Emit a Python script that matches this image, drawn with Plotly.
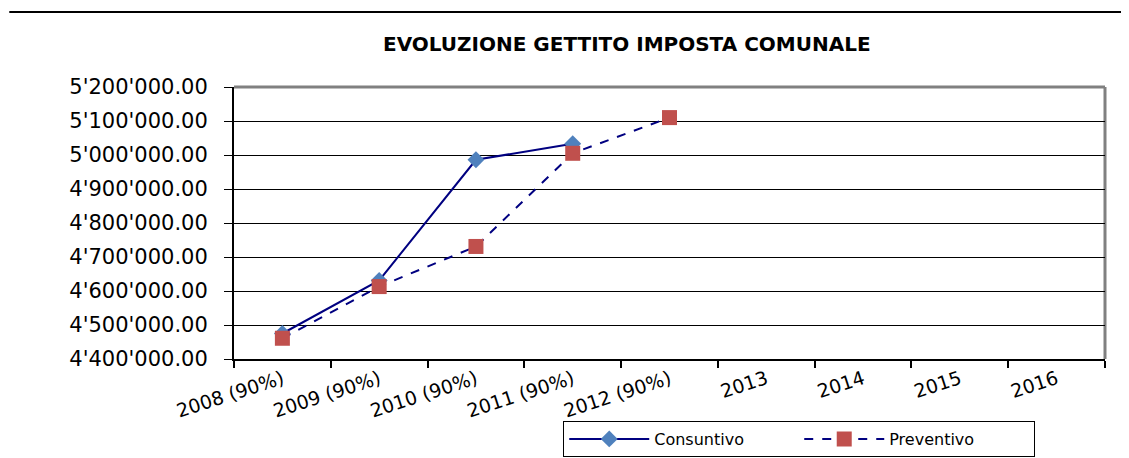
import plotly.graph_objects as go

categories = ["2008 (90%)", "2009 (90%)", "2010 (90%)", "2011 (90%)", "2012 (90%)",
              "2013", "2014", "2015", "2016"]
consuntivo = [4475000, 4631000, 4986000, 5033000, None, None, None, None, None]
preventivo = [4461000, 4613000, 4731000, 5005000, 5110000, None, None, None, None]
title_text = "EVOLUZIONE GETTITO IMPOSTA COMUNALE"

FONT = "DejaVu Sans"
NAVY = "#000080"

fig = go.Figure()
fig.add_trace(go.Scatter(
    x=categories, y=consuntivo, name="Consuntivo", mode="lines+markers",
    line=dict(color=NAVY, width=2),
    marker=dict(symbol="diamond", size=13, color="#4F81BD"),
))
fig.add_trace(go.Scatter(
    x=categories, y=preventivo, name="Preventivo", mode="lines+markers",
    line=dict(color=NAVY, width=2, dash="dash"),
    marker=dict(symbol="square", size=15, color="#C0504D"),
))

fig.update_layout(
    width=1121, height=450,
    margin=dict(l=226, r=24, t=79, b=99, autoexpand=False),
    paper_bgcolor="white", plot_bgcolor="white",
    separators=".'",
    title=dict(text="<b>" + title_text + "</b>", x=0.552, xanchor="center",
               y=0.92, yanchor="middle", yref="container",
               font=dict(family=FONT, size=20, color="black")),
    font=dict(family=FONT, color="black"),
    showlegend=True,
    legend=dict(orientation="h", x=0.378, xanchor="left", y=-0.228, yanchor="top",
                bordercolor="black", borderwidth=1, bgcolor="white",
                font=dict(family=FONT, size=16, color="black"),
                itemwidth=80, entrywidth=140, tracegroupgap=0,
                ),
    xaxis=dict(
        type="category", categoryorder="array", categoryarray=categories,
        range=[-0.5, len(categories) - 0.5],
        showline=True, linecolor="black", linewidth=2,
        ticks="outside", tickson="boundaries", ticklen=7, tickwidth=2, tickcolor="black",
        tickangle=-18, tickfont=dict(family=FONT, size=19, color="black"),
        showgrid=False, zeroline=False,
    ),
    yaxis=dict(
        range=[4400000, 5200000], dtick=100000, tick0=4400000,
        tickformat=",.2f",
        showline=True, linecolor="black", linewidth=2,
        ticks="outside", ticklen=8, tickwidth=1, tickcolor="black",
        ticklabelstandoff=12,
        tickfont=dict(family=FONT, size=21, color="black"),
        showgrid=True, gridcolor="black", gridwidth=1, zeroline=False,
    ),
    shapes=[
        dict(type="line", xref="paper", yref="paper", x0=0, x1=1, y0=1, y1=1,
             line=dict(color="#808080", width=3), layer="below"),
        dict(type="line", xref="paper", yref="paper", x0=1, x1=1, y0=0, y1=1,
             line=dict(color="#808080", width=3), layer="below"),
        dict(type="line", xref="paper", yref="paper", x0=-0.258, x1=1.03,
             y0=1.276, y1=1.276, line=dict(color="black", width=2)),
    ],
)

fig.write_html("out.html")
